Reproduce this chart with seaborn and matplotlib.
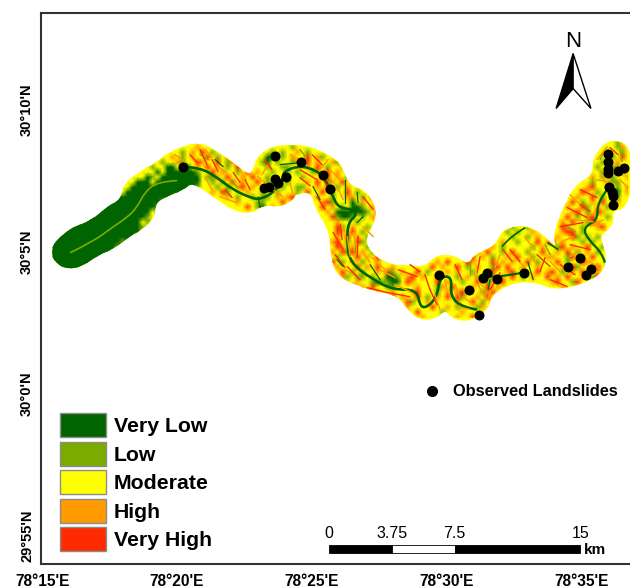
"""
Landslide susceptibility map along the river corridor, with observed landslides.
"""
import numpy as np
import matplotlib.pyplot as plt
import seaborn as sns
from matplotlib.colors import ListedColormap
from matplotlib.lines import Line2D
from matplotlib.patches import Patch, PathPatch, Polygon, Rectangle
from matplotlib.path import Path


# Legend classes
CLASS_NAMES = ["Very Low", "Low", "Moderate", "High", "Very High"]
CLASS_COLORS = ["#006400", "#7CAB00", "#FFFF00", "#FF9A00", "#FF2A00"]
CLASS_CODES = ["v", "l", "m", "h", "r"]

# All map positions are arc minutes: east of 78 deg and north of 30 deg
LON_TICKS = [15, 20, 25, 30, 35]
LON_LABELS = ["78°15'E", "78°20'E", "78°25'E", "78°30'E", "78°35'E"]
LAT_TICKS = [-5, 0, 5, 10]
LAT_LABELS = ["29°55'N", "30°0'N", "30°5'N", "30°10'N"]

# Corridor outline
OUTLINE_LON = [15.41, 15.59, 16.15, 16.89, 17.52, 17.97, 18.08, 18.52, 19.30, 19.75, 20.38, 20.86,
               21.31, 21.97, 22.60, 22.90, 23.01, 23.46, 24.20, 25.05, 25.94, 26.05, 26.35, 26.91,
               27.35, 27.17, 26.91, 27.05, 27.80, 28.39, 29.28, 29.65, 30.24, 30.80, 31.06, 31.88,
               32.10, 32.73, 33.36, 34.10, 34.03, 34.40, 34.84, 35.51, 35.51, 36.07, 36.55, 36.81,
               36.81, 36.51, 36.07, 36.14, 35.77, 35.59, 35.88, 35.70, 34.70, 33.95, 33.36, 32.47,
               31.62, 31.51, 30.88, 30.24, 29.95, 29.50, 29.02, 28.58, 28.28, 27.54, 26.68, 26.05,
               25.79, 25.76, 25.20, 25.05, 24.38, 24.31, 23.83, 23.20, 22.72, 22.08, 21.49, 20.60,
               20.23, 19.38, 19.12, 19.08, 18.64, 18.08, 17.60, 17.04, 16.41, 15.93, 15.56]
OUTLINE_LAT = [4.96, 5.35, 5.77, 6.02, 6.55, 6.76, 7.25, 7.64, 8.06, 8.42, 8.66, 8.73,
               8.52, 8.13, 7.61, 7.78, 8.24, 8.59, 8.70, 8.59, 8.13, 7.89, 7.25, 7.11,
               6.48, 5.88, 5.53, 4.96, 4.47, 4.44, 4.37, 4.79, 4.79, 4.44, 4.82, 5.14,
               5.67, 5.85, 5.67, 5.00, 5.53, 6.48, 7.29, 7.61, 8.31, 8.87, 8.77, 8.35,
               7.18, 6.55, 6.48, 6.06, 5.67, 5.53, 4.82, 4.26, 3.84, 3.77, 4.01, 4.01,
               3.56, 3.06, 2.61, 2.71, 3.06, 2.68, 2.68, 3.06, 3.49, 3.66, 3.91, 4.19,
               4.82, 5.77, 6.58, 7.18, 7.11, 6.94, 6.65, 6.73, 6.41, 6.55, 6.94, 7.54,
               7.25, 6.94, 6.65, 6.23, 5.85, 5.53, 5.18, 4.96, 4.54, 4.47, 4.65]
OUTLINE_GROW = 0.09

# River lines
UPPER_RIVER_LON = [16.04, 16.89, 17.60, 18.15, 18.52, 18.82, 19.30, 20.01]
UPPER_RIVER_LAT = [4.96, 5.35, 5.85, 6.20, 6.55, 7.11, 7.46, 7.50]
MAIN_RIVER_LON = [20.23, 20.86, 21.49, 22.08, 22.72, 23.09, 23.64, 23.94, 23.94, 24.57, 25.20, 25.50,
                  25.76, 25.98, 26.54, 26.68, 26.35, 26.31, 26.42, 27.28, 28.02, 28.91, 29.02, 29.28,
                  29.65, 29.76, 30.21, 30.14, 30.62, 31.14]
MAIN_RIVER_LAT = [7.99, 7.96, 7.61, 7.18, 6.90, 6.83, 7.11, 7.54, 7.82, 8.03, 7.85, 7.54,
                  7.01, 6.55, 6.48, 6.30, 6.02, 5.32, 4.61, 4.01, 3.66, 3.66, 3.06, 3.03,
                  3.41, 4.12, 4.12, 3.41, 3.03, 2.96]
MIDDLE_RIVER_LON = [31.36, 31.88, 32.84]
MIDDLE_RIVER_LAT = [4.12, 4.08, 4.26]
EAST_RIVER_LON = [35.88, 35.77, 35.26, 35.06, 35.62, 35.59, 35.96]
EAST_RIVER_LAT = [4.61, 4.96, 5.42, 5.84, 6.12, 6.72, 7.18]
TRIB_A_LON = [32.06, 32.36, 32.92]
TRIB_A_LAT = [5.17, 5.53, 5.84]
TRIB_B_LON = [33.74, 34.15]
TRIB_B_LAT = [5.32, 5.07]

# Thin streaks on the slopes, each one a pair of points
RED_LON = [20.86, 21.12, 22.09, 22.35, 24.57, 25.20, 25.80, 26.17, 26.72, 26.69, 26.32, 26.80, 27.06, 27.80,
           28.21, 28.91, 29.39, 29.65, 31.25, 31.14, 31.99, 31.62, 34.96, 35.59, 34.48, 35.22, 34.22, 35.07,
           33.36, 33.85, 32.10, 32.44, 33.85, 34.48, 26.91, 27.28, 25.20, 25.50, 27.80, 28.65,
           20.49, 20.75, 21.31, 21.53, 22.53, 22.72, 21.79, 22.05, 23.27, 23.53, 25.02, 25.39,
           24.57, 24.94, 25.43, 25.68, 26.06, 26.13, 25.87, 26.24, 28.65, 29.02, 30.32, 30.58,
           29.20, 29.39, 32.36, 32.73, 33.66, 33.47, 34.22, 34.77, 34.96, 35.33, 34.59, 35.33, 36.07, 36.37]
RED_LAT = [8.59, 8.06, 7.78, 7.43, 7.88, 7.53, 5.67, 5.07, 5.53, 4.82, 4.47, 4.01, 3.73, 3.56,
           4.36, 4.12, 3.66, 3.13, 4.82, 4.26, 4.26, 3.66, 7.18, 6.90, 6.55, 6.20, 5.88, 6.02,
           4.89, 4.47, 5.07, 4.65, 4.01, 3.77, 6.93, 6.48, 6.93, 6.48, 3.56, 3.41,
           8.41, 8.13, 8.24, 7.81, 7.53, 7.18, 7.18, 6.90, 8.24, 7.88, 8.41, 8.06,
           7.60, 7.32, 7.53, 7.18, 5.95, 5.42, 4.89, 4.44, 4.54, 4.29, 4.54, 4.01,
           4.19, 3.66, 5.07, 4.65, 4.79, 4.29, 4.54, 4.19, 6.65, 6.41, 5.24, 5.07, 8.66, 8.41]
ORANGE_LON = [21.53, 21.86, 21.60, 22.23, 23.01, 23.27, 23.57, 23.94, 24.20, 24.31, 25.68, 26.06, 25.94, 26.17,
              26.32, 26.43, 26.91, 27.17, 26.54, 26.72, 26.91, 27.28, 27.24, 27.80, 29.95, 30.03, 30.62, 30.99,
              31.51, 31.73, 34.70, 35.44, 34.22, 34.70, 35.81, 35.33, 34.59, 34.96, 32.99, 33.29, 32.62, 32.92,
              30.99, 31.36, 35.59, 36.07, 35.96, 35.59, 30.40, 30.88,
              19.93, 20.30, 21.05, 21.31, 22.35, 22.57, 21.05, 21.31, 24.20, 24.57, 23.16, 23.38,
              25.31, 25.61, 25.98, 26.24, 26.24, 26.80, 27.54, 28.09, 28.09, 28.65, 29.57, 29.76,
              30.32, 30.50, 31.17, 31.43, 31.99, 31.81, 32.92, 33.29, 33.85, 34.22, 35.33, 35.70,
              34.59, 34.96, 35.70, 35.88, 36.44, 36.74]
ORANGE_LAT = [7.99, 7.78, 6.93, 6.72, 7.64, 7.43, 7.18, 6.93, 7.43, 7.00, 7.88, 7.53, 7.29, 6.83,
              5.53, 4.82, 4.96, 4.61, 5.67, 4.96, 5.88, 5.53, 4.79, 4.29, 4.01, 3.56, 3.41, 3.13,
              3.31, 3.77, 6.12, 6.05, 5.32, 5.53, 6.12, 5.88, 4.82, 5.07, 5.07, 4.61, 4.72, 4.44,
              4.26, 3.77, 7.53, 7.43, 8.69, 8.24, 3.06, 2.96,
              8.41, 8.17, 8.59, 8.31, 7.88, 7.53, 7.60, 7.18, 8.41, 8.24, 7.71, 8.06,
              7.88, 8.24, 6.05, 5.70, 4.36, 4.08, 4.36, 4.08, 3.84, 3.59, 3.48, 2.96,
              3.84, 3.38, 3.84, 3.38, 4.89, 4.44, 5.49, 5.07, 4.65, 4.29, 4.65, 4.36,
              7.00, 6.65, 7.88, 7.46, 7.53, 7.25]
GREEN_LON = [23.83, 24.57, 25.05, 25.31, 26.24, 26.24, 26.69, 26.72, 26.91, 26.69, 21.42, 21.72,
             23.01, 23.09, 25.94, 26.17, 27.17, 27.54, 33.03, 33.22, 31.62, 31.55]
GREEN_LAT = [8.06, 8.13, 7.29, 6.83, 7.53, 6.72, 7.07, 6.72, 6.23, 6.02, 8.24, 7.99,
             6.93, 6.55, 4.72, 4.47, 4.54, 4.01, 4.61, 4.01, 4.01, 3.66]
LIGHT_LON = [20.86, 21.16, 21.97, 22.27, 24.57, 24.79, 26.61, 26.61, 30.88, 30.88, 33.66, 33.85,
             34.40, 34.77, 36.07, 36.51, 35.88, 35.70, 36.44, 36.51]
LIGHT_LAT = [8.41, 8.24, 7.53, 7.25, 8.59, 8.31, 5.42, 5.00, 4.65, 4.19, 5.24, 4.89,
             5.95, 5.70, 8.06, 7.81, 8.59, 8.24, 8.59, 8.17]

# Observed landslides
SLIDE_LON = [20.23, 23.64, 24.61, 25.42, 25.68, 24.05, 23.64, 23.75, 23.42, 23.23, 29.73, 30.84, 31.21,
             31.36, 31.51, 31.88, 32.88, 34.51, 34.96, 35.18, 35.36, 36.18, 36.18, 36.03, 36.14, 35.99,
             35.99, 35.99, 35.99, 36.36, 36.59]
SLIDE_LAT = [7.99, 8.35, 8.17, 7.71, 7.22, 7.61, 7.54, 7.43, 7.29, 7.25, 4.19, 3.63, 2.78,
             4.08, 4.23, 4.05, 4.26, 4.44, 4.79, 4.19, 4.40, 6.65, 6.97, 7.29, 7.11, 8.45,
             8.17, 7.89, 7.78, 7.85, 7.96]

# Susceptibility classes as seen on the map, one string per row, groups of 20 columns
RASTER_LON0 = 15.30
RASTER_LAT0 = 8.94
RASTER_DLON = 0.1855
RASTER_DLAT = 0.176
RASTER_ROWS = [
    "- - - - - ............mlmm",
    "- .......mmhm .......mlm - - ...........mmlhm",
    "- ....mmlmhmrmlm ...mlmlmmhmlmm - - ..........mlmmlm",
    "- ...mhmlmhmmrmlmh ..mvvmlmhmmrmhlm - - .........mmllmrm",
    "- ..lmmhlmmrhmmrmlhm .mlvmlmmlhmrmhmmhl - - .........mlmmhmm",
    "- lmmvvmvvmhmrmhmlmrm .mmlmmllmmmhmrmlmmh - - .........lmmhlmm",
    "..................mm mvmvvvvvvlmmrmhmmlmr .hmmlmmlmlmmlhmrmhmm - - ........mmlmmhlm",
    "................mmmv lmvvvvvvvvmllhmrmmhm rmmlmmmlmmlmmmmrmhml - - ........hmlmlmmh",
    "...............mmvvv mvvvvvvvvvmmlmlmrmhm mrmlmmmlmmmhmrmlhmrm m - .......mlmmhllmm",
    "...............mvvvv vvvvvvvvvlmmmlmlmhrm hmmllmlmmllmmhmrmlmh mm - ......mhrmmlmlmh",
    "...............vvvvv vvvvvvvvv..mhmrlmmmh mmlmmlmmmlmrmmrmlmmr mlmmh - .....mrhmlmmlvmh",
    "............vvvvvvvv vvvvv.........mhmlmm lmllmhmhr....hmmlmmh hmlmrm - ....mhmmrmlmvlmm",
    ".........vvvvvvvvvvv vvlm............mhmm mllmmmrmh....mhrlmmm vmhmmr - ...mrmlmhmrmmhmm",
    "......vvvvvvvvvvvvvv vlml..............mr mlvmhm.......mrmhmlm vvlmhm - ...hmmrlmhmlmm",
    "....vvvvvvvvvvvvvvvv mlm................m ..............mhmvvv vvvlmr - ..mmhrmlmrhm",
    "..vvvvvvvvvvvvvvvvvl - ...............mrlvv lmlmhm - ..mrmlmhrmml",
    "vvvvvvvvvvvvvvvvvvml - ................mhmm mlmmmr - .mhmrmmlrhmm",
    "vvvvvvvvvvvvvvvvvvlm - ................mrlm hmmlmm ...........mlmmlm... .mrhmmlmmhrm",
    "vvvvvvvvvvvvvvvvvvml - ................mrhm rmlmm ..........mlmlmmhm.. mmhrrmlmmmm",
    "vvvvvvvvvvvvvvvvvlml - ................mhmr mhmlm ..........mmlmmlmhm. mhmmrlmlmlm",
    "vvvvvvvvvvvvvvlvvvmm - ................hrml mrlmm .........mhmmlmmmrmh rmhmmmlmlmmm",
    "vvvvvvvvvvvvvlvvmmmm - ................mrhm hmmlmm ......mmhmlmmmmmlmhm mlrmhmmrmmlm",
    "vvvvvvvvvvvvvvvvv - ................hmrl rmhmlmm ....mhmrmmlmrmmlmmrm mhmrmlmhmlmm",
    "vvvvvvvvvvvvvvvvv - ................mlmm mrmhmrmm.........mmm ...mrmhmlmmhmrmmlmmh hmmlrmhmrmmm",
    "vvvvvvvvvvvvvvvv - ................rmlm hmlmmhm.........mhmr mm.rhmmmrmhmhmmrmlmm mrmlmmrhmmml",
    "vvvvvvvvvvvvvv - .................hmm mrmhmrmmh.....mmrmhm mrmlmhmmlrmrmmhmmhmm mmhmrlmmhrml",
    "vvvvvvvvvvvv - .................mrm lmlmmhmrlmhmmrmlmmmh mhmmlmmmrmmhrmlmmrmh rmlmhmrmmhmm",
    "vvvvvvvvvv - ..................hl mllmlmmvvlmhrmhmmrmm mlmhmlmmlmhmrmlmhmmr mhmrmmhmlrm",
    "- - ...................m mhmmlvllvvmrhmmmmrmh mmlmmrmlhmrm hrmmlrmm",
    "- - - rmhmrmmllmmmmhmmmlhm rmmmhmmrmhm mmh",
    "- - - ..mrmhmmhmmmhrmmmlmh mhrmmmlhrm -",
    "- - - ......hmrmhmmrmlmhmr mrlmmhmrm -",
    "- - - ..........mrlmmhmmmm mhmmrmlmh -",
    "- - - ..........mhmmmmrmmh mlmmmlhm -",
    "- - - ............mrmmmmlm mmhmmmm -",
    "- - - ............mmhmm.mm .hmmrm -",
]
GROUP_WIDTHS = [20, 20, 20, 20, 20, 16]

# Scale bar
SCALE_KM = [0, 3.75, 7.5, 15]
SCALE_LABELS = ["0", "3.75", "7.5", "15"]
SCALE_FILLS = ["black", "white", "black"]
SCALE_LON0 = 25.65
SCALE_LAT0 = -5.62
MIN_PER_KM = 0.6207
BAR_HEIGHT = 0.28

sns.set_theme(style="white")
plt.rcParams["font.family"] = ["Liberation Sans", "DejaVu Sans"]
SPINE = "#333333"


def raster_grid():
    """Turn the class strings into a numeric grid, cells off the corridor count as moderate."""
    grid = []
    for row in RASTER_ROWS:
        groups = row.split(" ")
        line = ""
        for group, width in zip(groups, GROUP_WIDTHS):
            line += group.ljust(width, ".")
        line = line.ljust(sum(GROUP_WIDTHS), ".")
        grid.append([CLASS_CODES.index(c) if c in CLASS_CODES else 2 for c in line])
    return np.array(grid, dtype=float)


def corridor_path():
    """Closed curve round the outline: points pushed outward, used as quadratic control points."""
    pts = np.column_stack([OUTLINE_LON, OUTLINE_LAT])
    tangent = np.roll(pts, -1, axis=0) - np.roll(pts, 1, axis=0)
    normal = np.column_stack([-tangent[:, 1], tangent[:, 0]])
    normal = normal / np.linalg.norm(normal, axis=1, keepdims=True)
    pts = pts + OUTLINE_GROW * normal
    mids = (pts + np.roll(pts, -1, axis=0)) / 2
    verts = [mids[-1]]
    codes = [Path.MOVETO]
    for p, m in zip(pts, mids):
        verts += [p, m]
        codes += [Path.CURVE3, Path.CURVE3]
    return Path(verts, codes)


def river_path(lon, lat):
    """Open curve along a river, the inner points act as quadratic control points."""
    pts = np.column_stack([lon, lat])
    if len(pts) < 3:
        return Path(pts)
    verts = [pts[0]]
    codes = [Path.MOVETO]
    for i in range(1, len(pts) - 1):
        end = pts[i + 1] if i == len(pts) - 2 else (pts[i] + pts[i + 1]) / 2
        verts += [pts[i], end]
        codes += [Path.CURVE3, Path.CURVE3]
    return Path(verts, codes)


def draw_raster(fig, ax):
    """Classes as a heatmap in a second axes lined up with the map, clipped to the corridor."""
    grid = raster_grid()
    nrows, ncols = grid.shape
    corner_a = ax.transData.transform((RASTER_LON0, RASTER_LAT0 - nrows * RASTER_DLAT))
    corner_b = ax.transData.transform((RASTER_LON0 + ncols * RASTER_DLON, RASTER_LAT0))
    a = fig.transFigure.inverted().transform(corner_a)
    b = fig.transFigure.inverted().transform(corner_b)

    ax_r = fig.add_axes([a[0], a[1], b[0] - a[0], b[1] - a[1]], zorder=1)
    sns.heatmap(grid, cmap=ListedColormap(CLASS_COLORS), vmin=-0.5, vmax=4.5, cbar=False,
                xticklabels=False, yticklabels=False, shading="gouraud", ax=ax_r)
    ax_r.set_xlim(-0.5, ncols - 0.5)
    ax_r.set_ylim(nrows - 0.5, -0.5)
    ax_r.axis("off")

    corridor = PathPatch(corridor_path(), transform=ax.transData, facecolor=CLASS_COLORS[2],
                         edgecolor="none", zorder=0, clip_on=False)
    ax_r.add_patch(corridor)
    ax_r.collections[0].set_clip_path(corridor)


def draw_streaks(ax):
    for lons, lats, color, width in [(LIGHT_LON, LIGHT_LAT, CLASS_COLORS[1], 1.0),
                                     (ORANGE_LON, ORANGE_LAT, CLASS_COLORS[3], 1.1),
                                     (RED_LON, RED_LAT, CLASS_COLORS[4], 1.0),
                                     (GREEN_LON, GREEN_LAT, CLASS_COLORS[0], 0.9)]:
        for i in range(0, len(lons), 2):
            sns.lineplot(x=lons[i:i + 2], y=lats[i:i + 2], sort=False, estimator=None, color=color,
                         linewidth=width, ax=ax)


def draw_rivers(ax):
    rivers = [
        (UPPER_RIVER_LON, UPPER_RIVER_LAT, CLASS_COLORS[1], 1.2),
        (MAIN_RIVER_LON, MAIN_RIVER_LAT, CLASS_COLORS[0], 1.9),
        (MIDDLE_RIVER_LON, MIDDLE_RIVER_LAT, CLASS_COLORS[0], 1.5),
        (EAST_RIVER_LON, EAST_RIVER_LAT, CLASS_COLORS[0], 1.6),
        (TRIB_A_LON, TRIB_A_LAT, CLASS_COLORS[0], 1.2),
        (TRIB_B_LON, TRIB_B_LAT, CLASS_COLORS[0], 1.2),
    ]
    for lon, lat, color, width in rivers:
        ax.add_patch(PathPatch(river_path(lon, lat), facecolor="none", edgecolor=color, linewidth=width))


def draw_north_arrow(ax):
    ax.text(34.70, 12.40, "N", fontsize=16, ha="center", va="center", color="black")
    ax.add_patch(Polygon([(34.70, 11.97), (34.07, 10.04), (34.70, 10.74)], closed=True,
                         facecolor="black", edgecolor="black", linewidth=1.0))
    ax.add_patch(Polygon([(34.70, 11.97), (35.36, 10.04), (34.70, 10.74)], closed=True,
                         facecolor="white", edgecolor="black", linewidth=1.0))


def draw_scale_bar(ax):
    for i, fill in enumerate(SCALE_FILLS):
        left = SCALE_LON0 + SCALE_KM[i] * MIN_PER_KM
        width = (SCALE_KM[i + 1] - SCALE_KM[i]) * MIN_PER_KM
        ax.add_patch(Rectangle((left, SCALE_LAT0), width, BAR_HEIGHT, facecolor=fill,
                               edgecolor="black", linewidth=0.6))
    for km, label in zip(SCALE_KM, SCALE_LABELS):
        ax.text(SCALE_LON0 + km * MIN_PER_KM, SCALE_LAT0 + 0.42, label, fontsize=11.5,
                ha="center", va="bottom", color="black")
    ax.text(SCALE_LON0 + 15 * MIN_PER_KM + 0.12, SCALE_LAT0 + 0.12, "km", fontsize=11,
            fontweight="bold", ha="left", va="center", color="black")


def draw_legends(ax):
    handles = [Patch(facecolor=c, edgecolor="#8c8c8c", linewidth=1.0, label=n)
               for c, n in zip(CLASS_COLORS, CLASS_NAMES)]
    classes = ax.legend(handles=handles, loc="lower left", bbox_to_anchor=(0.005, -0.006), frameon=False,
                        handlelength=2.15, handleheight=1.38, handletextpad=0.4,
                        labelspacing=0.2, borderpad=0.25, labelcolor="black",
                        prop={"weight": "bold", "size": 15.3})
    ax.add_artist(classes)
    dot = Line2D([], [], linestyle="none", marker="o", color="black", markersize=7,
                 label="Observed Landslides")
    ax.legend(handles=[dot], loc="center right", bbox_to_anchor=(1.005, 0.3124), frameon=False,
              handletextpad=0.3, labelcolor="black", prop={"weight": "bold", "size": 11.8})


def main():
    fig = plt.figure(figsize=(6.3, 5.88), dpi=100)
    ax = fig.add_axes([41 / 630, 24 / 588, 589 / 630, 551 / 588], zorder=2)
    ax.patch.set_alpha(0)
    ax.set_xlim(14.96, 36.81)
    ax.set_ylim(-6.0, 13.4)

    draw_raster(fig, ax)
    draw_streaks(ax)
    draw_rivers(ax)
    sns.scatterplot(x=SLIDE_LON, y=SLIDE_LAT, color="black", s=52, edgecolor="black", linewidth=0,
                    legend=False, ax=ax, zorder=5)

    ax.set_xticks(LON_TICKS)
    ax.set_xticklabels(LON_LABELS, fontweight="bold", fontsize=11.2, color="black")
    ax.set_yticks(LAT_TICKS)
    ax.set_yticklabels(LAT_LABELS, fontweight="bold", fontsize=10.5, color="black", rotation=90, va="center")
    ax.tick_params(axis="x", length=0, pad=7)
    ax.tick_params(axis="y", length=0, pad=5)
    ax.spines["right"].set_visible(False)
    for side in ["left", "top", "bottom"]:
        ax.spines[side].set_color(SPINE)
        ax.spines[side].set_linewidth(1.5)

    draw_north_arrow(ax)
    draw_scale_bar(ax)
    draw_legends(ax)

    plt.savefig("out.png", dpi=100)
    plt.close()


main()
